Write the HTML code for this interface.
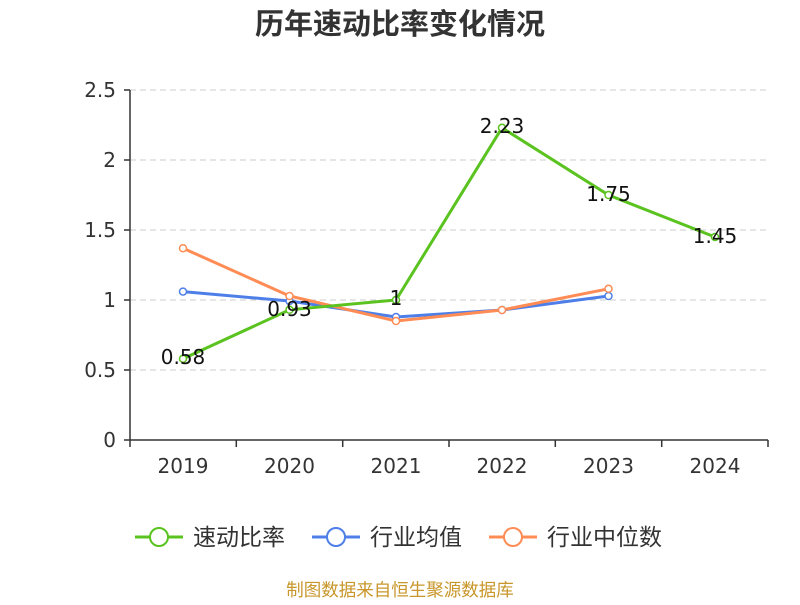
<!DOCTYPE html>
<html><head><meta charset="utf-8"><style>
body{margin:0;background:#fff;}
svg text{font-family:"DejaVu Sans","Noto Sans CJK SC",sans-serif;}
svg text.cjk{font-family:"Noto Sans CJK SC",sans-serif;}
</style></head><body>
<svg width="800" height="600" viewBox="0 0 800 600" xmlns="http://www.w3.org/2000/svg">
<text class="cjk" x="400" y="34" text-anchor="middle" font-size="29" font-weight="bold" fill="#333">历年速动比率变化情况</text>
<g stroke="#ccc" stroke-dasharray="6,4" stroke-width="1">
<line x1="130" y1="90" x2="768" y2="90"/>
<line x1="130" y1="160" x2="768" y2="160"/>
<line x1="130" y1="230" x2="768" y2="230"/>
<line x1="130" y1="300" x2="768" y2="300"/>
<line x1="130" y1="370" x2="768" y2="370"/>
</g>
<g stroke="#333" stroke-width="1.5">
<line x1="130" y1="90" x2="130" y2="440"/>
<line x1="130" y1="440" x2="768" y2="440"/>
<line x1="124" y1="90" x2="130" y2="90"/><line x1="124" y1="160" x2="130" y2="160"/>
<line x1="124" y1="230" x2="130" y2="230"/><line x1="124" y1="300" x2="130" y2="300"/>
<line x1="124" y1="370" x2="130" y2="370"/><line x1="124" y1="440" x2="130" y2="440"/>
<line x1="130" y1="440" x2="130" y2="447"/><line x1="236.3" y1="440" x2="236.3" y2="447"/>
<line x1="342.7" y1="440" x2="342.7" y2="447"/><line x1="449" y1="440" x2="449" y2="447"/>
<line x1="555.3" y1="440" x2="555.3" y2="447"/><line x1="661.7" y1="440" x2="661.7" y2="447"/>
<line x1="768" y1="440" x2="768" y2="447"/>
</g>
<g font-size="20" fill="#333" text-anchor="end">
<text x="116" y="97">2.5</text><text x="116" y="167">2</text><text x="116" y="237">1.5</text>
<text x="116" y="307">1</text><text x="116" y="377">0.5</text><text x="116" y="447">0</text>
</g>
<g font-size="20" fill="#333" text-anchor="middle">
<text x="183" y="473">2019</text><text x="289.5" y="473">2020</text><text x="396" y="473">2021</text>
<text x="502" y="473">2022</text><text x="608.5" y="473">2023</text><text x="715" y="473">2024</text>
</g>
<polyline fill="none" stroke="#4e7fe8" stroke-width="3" points="183,291.6 289.5,301 396,317 502,310 608.5,296"/>
<polyline fill="none" stroke="#ff8c55" stroke-width="3" points="183,248.2 289.5,296 396,321 502,310 608.5,288.8"/>
<polyline fill="none" stroke="#5ac31f" stroke-width="3" points="183,358.8 289.5,309.8 396,300 502,127.8 608.5,195 715,237"/>
<g fill="#fff" stroke="#4e7fe8" stroke-width="1.5">
<circle cx="183" cy="291.6" r="3.5"/><circle cx="289.5" cy="301" r="3.5"/><circle cx="396" cy="317" r="3.5"/><circle cx="502" cy="310" r="3.5"/><circle cx="608.5" cy="296" r="3.5"/>
</g>
<g fill="#fff" stroke="#ff8c55" stroke-width="1.5">
<circle cx="183" cy="248.2" r="3.5"/><circle cx="289.5" cy="296" r="3.5"/><circle cx="396" cy="321" r="3.5"/><circle cx="502" cy="310" r="3.5"/><circle cx="608.5" cy="288.8" r="3.5"/>
</g>
<g fill="#fff" stroke="#5ac31f" stroke-width="1.5">
<circle cx="183" cy="358.8" r="3.5"/><circle cx="289.5" cy="309.8" r="3.5"/><circle cx="396" cy="300" r="3.5"/><circle cx="502" cy="127.8" r="3.5"/><circle cx="608.5" cy="195" r="3.5"/><circle cx="715" cy="237" r="3.5"/>
</g>
<g font-size="20" fill="#111" text-anchor="middle">
<text x="183" y="364">0.58</text><text x="289.5" y="316">0.93</text><text x="396" y="305">1</text>
<text x="502" y="133">2.23</text><text x="608.5" y="201">1.75</text><text x="715" y="243">1.45</text>
</g>
<g stroke-width="3" fill="#fff">
<line x1="135" y1="537" x2="183" y2="537" stroke="#5ac31f"/><circle cx="159" cy="537" r="9" stroke="#5ac31f" stroke-width="2"/>
<line x1="312" y1="537" x2="360" y2="537" stroke="#4e7fe8"/><circle cx="336" cy="537" r="9" stroke="#4e7fe8" stroke-width="2"/>
<line x1="489" y1="537" x2="537" y2="537" stroke="#ff8c55"/><circle cx="513" cy="537" r="9" stroke="#ff8c55" stroke-width="2"/>
</g>
<g font-size="23" fill="#333" class="cjk">
<text class="cjk" x="193" y="545">速动比率</text><text class="cjk" x="370" y="545">行业均值</text><text class="cjk" x="547" y="545">行业中位数</text>
</g>
<text class="cjk" x="400" y="596" text-anchor="middle" font-size="17.5" fill="#c8962a">制图数据来自恒生聚源数据库</text>
</svg>
</body></html>
